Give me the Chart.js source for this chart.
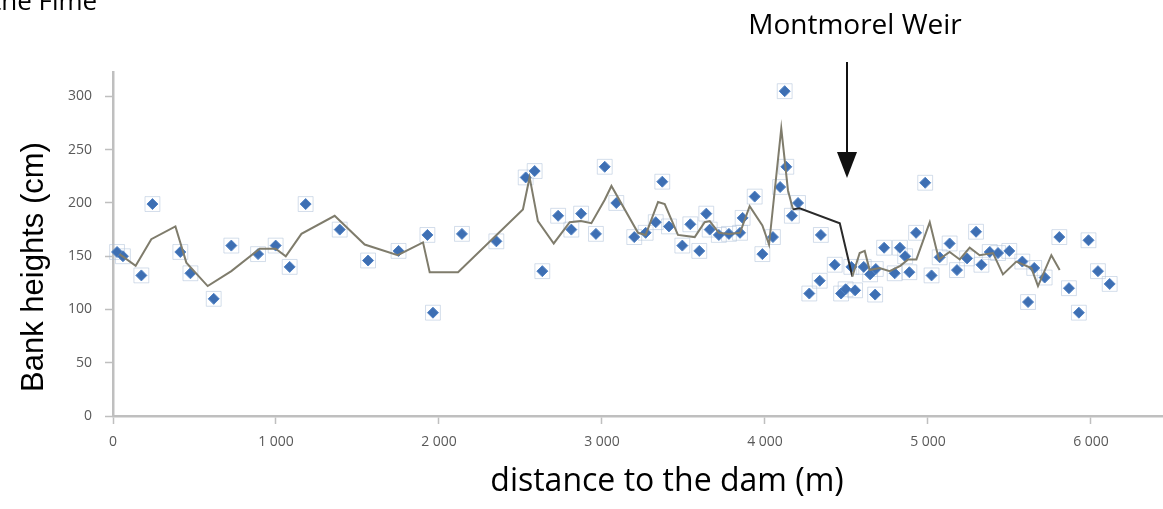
<!DOCTYPE html>
<html>
<head>
<meta charset="utf-8">
<script src="https://cdn.jsdelivr.net/npm/chart.js@4/dist/chart.umd.min.js"></script>
<style>
  html, body { margin: 0; padding: 0; background: #fff; }
  #wrap { width: 1163px; height: 509px; }
</style>
</head>
<body>
<div id="wrap"><canvas id="chart" width="1163" height="509"></canvas></div>
<script>
// bank height samples along the river (distance in m, height in cm)
const distances = [25, 61, 174, 242, 413, 475, 618, 726, 890, 998,
  1084, 1182, 1391, 1565, 1752, 1929, 1963, 2141, 2352, 2532,
  2587, 2634, 2731, 2812, 2872, 2963, 3017, 3088, 3198, 3268,
  3330, 3370, 3411, 3493, 3542, 3597, 3640, 3661, 3717, 3779,
  3847, 3863, 3937, 3984, 4049, 4093, 4121, 4131, 4165, 4203,
  4272, 4336, 4343, 4428, 4467, 4495, 4530, 4553, 4606, 4645,
  4676, 4680, 4731, 4796, 4828, 4860, 4886, 4927, 4983, 5022,
  5072, 5133, 5178, 5240, 5295, 5328, 5379, 5430, 5499, 5579,
  5614, 5652, 5716, 5806, 5865, 5926, 5985, 6043, 6115]
const heights = [154, 150, 132, 199, 154, 134, 110, 160, 152, 160,
  140, 199, 175, 146, 155, 170, 97, 171, 164, 224,
  230, 136, 188, 175, 190, 171, 234, 200, 168, 172,
  182, 220, 178, 160, 180, 155, 190, 175, 170, 171,
  172, 186, 206, 152, 168, 215, 305, 234, 188, 200,
  115, 127, 170, 142, 115, 119, 140, 118, 140, 133,
  114, 138, 158, 134, 158, 150, 135, 172, 219, 132,
  149, 162, 137, 148, 173, 142, 154, 153, 155, 145,
  107, 139, 130, 168, 120, 97, 165, 136, 124]

// moving-average trend line
const trendX = [40, 139, 235, 383, 450, 581, 726, 900, 998, 1060,
  1156, 1360, 1544, 1747, 1902, 1943, 2117, 2515, 2556, 2607,
  2704, 2802, 2870, 2935, 3017, 3058, 3221, 3268, 3344, 3385,
  3466, 3569, 3630, 3661, 3717, 3779, 3847, 3906, 3984, 4025,
  4100, 4141, 4172, 4213, 4459, 4536, 4581, 4612, 4642, 4703,
  4765, 4830, 4878, 4929, 5011, 5051, 5068, 5133, 5195, 5256,
  5317, 5399, 5460, 5542, 5634, 5675, 5757, 5808]
const trendY = [152, 141, 166, 178, 144, 122, 136, 157, 157, 150,
  171, 188, 161, 151, 163, 135, 135, 194, 224, 183,
  162, 182, 183, 181, 203, 216, 172, 170, 201, 199,
  170, 168, 182, 183, 172, 171, 172, 197, 179, 161,
  270, 212, 194, 195, 181, 131, 153, 155, 137, 139,
  136, 141, 147, 147, 182, 157, 147, 154, 147, 158,
  151, 153, 133, 145, 139, 122, 151, 137]

const xTicks = [0, 1000, 2000, 3000, 4000, 5000, 6000]
const yTicks = [0, 50, 100, 150, 200, 250, 300]

const weirLabel = "Montmorel Weir"
const yTitle = "Bank heights (cm)"
const xTitle = "distance to the dam (m)"
const cutTitle = "the Fime"

const points = distances.map((d, i) => ({x: d, y: heights[i]}))
const trend = trendX.map((d, i) => ({x: d, y: trendY[i]}))

const fmt = v => String(v).replace(/\B(?=(\d{3})+(?!\d))/g, " ")

const extras = {
  id: "extras",
  afterDraw(chart) {
    const ctx = chart.ctx
    ctx.save()
    // weir arrow
    ctx.strokeStyle = "#111"
    ctx.fillStyle = "#111"
    ctx.lineWidth = 2
    ctx.beginPath()
    ctx.moveTo(847, 62)
    ctx.lineTo(847, 156)
    ctx.stroke()
    ctx.beginPath()
    ctx.moveTo(837, 152)
    ctx.lineTo(857, 152)
    ctx.lineTo(847, 178)
    ctx.closePath()
    ctx.fill()

    ctx.fillStyle = "#000"
    ctx.textBaseline = "alphabetic"
    ctx.textAlign = "center"
    ctx.font = "28px 'Open Sans'"
    ctx.fillText(weirLabel, 855, 34, 215)

    ctx.font = "32px 'Open Sans'"
    ctx.fillText(xTitle, 667, 491, 358)

    ctx.font = "26px 'Open Sans'"
    ctx.textAlign = "left"
    ctx.fillText(cutTitle, -8, 10, 110)

    ctx.translate(43, 267)
    ctx.rotate(-Math.PI / 2)
    ctx.textAlign = "center"
    ctx.font = "31px 'Liberation Sans'"
    ctx.fillText(yTitle, 0, 0)
    ctx.restore()
  }
}

new Chart(document.getElementById("chart"), {
  type: "scatter",
  data: {
    datasets: [
      {
        type: "line",
        data: trend,
        borderColor: "#7f7c6c",
        borderWidth: 2,
        pointRadius: 0,
        tension: 0,
        clip: false,
        segment: {
          borderColor: c => (c.p0.parsed.x >= 4172 && c.p1.parsed.x <= 4536) ? "#2a2a2a" : undefined
        },
        order: 0
      },
      {
        data: points,
        pointStyle: "rectRot",
        pointRadius: 5.5,
        backgroundColor: "#3e6fb3",
        borderColor: "#4f81c4",
        borderWidth: 1,
        clip: false,
        order: 1
      },
      {
        data: points,
        pointStyle: "rect",
        pointRadius: 10.5,
        backgroundColor: "rgba(255,255,255,0)",
        borderColor: "rgba(170,190,215,0.5)",
        borderWidth: 1,
        clip: false,
        order: 2
      }
    ]
  },
  options: {
    responsive: false,
    animation: false,
    layout: {autoPadding: false, padding: {top: 72, left: 0, right: 0, bottom: 0}},
    plugins: {legend: {display: false}, tooltip: {enabled: false}},
    scales: {
      x: {
        type: "linear",
        min: 0,
        max: 6442,
        afterFit: s => { s.height = 93; s.paddingLeft = 0; s.paddingRight = 0 },
        afterBuildTicks: s => { s.ticks = xTicks.map(v => ({value: v})) },
        border: {display: true, color: "#bfbfbf", width: 2.5},
        grid: {drawOnChartArea: false, drawTicks: true, tickLength: 8, tickColor: "#bfbfbf", tickWidth: 1.5},
        ticks: {color: "#595959", font: {family: "'Open Sans'", size: 14}, padding: 10, maxRotation: 0, callback: v => fmt(v)}
      },
      y: {
        min: 0,
        max: 323,
        afterFit: s => { s.width = 113; s.paddingTop = 0; s.paddingBottom = 0 },
        afterBuildTicks: s => { s.ticks = yTicks.map(v => ({value: v})) },
        border: {display: true, color: "#bfbfbf", width: 2.5},
        grid: {drawOnChartArea: false, drawTicks: true, tickLength: 8, tickColor: "#bfbfbf", tickWidth: 1.5},
        ticks: {color: "#595959", font: {family: "'Open Sans'", size: 14}, padding: 13, callback: v => String(v)}
      }
    }
  },
  plugins: [extras]
})
</script>
</body>
</html>
